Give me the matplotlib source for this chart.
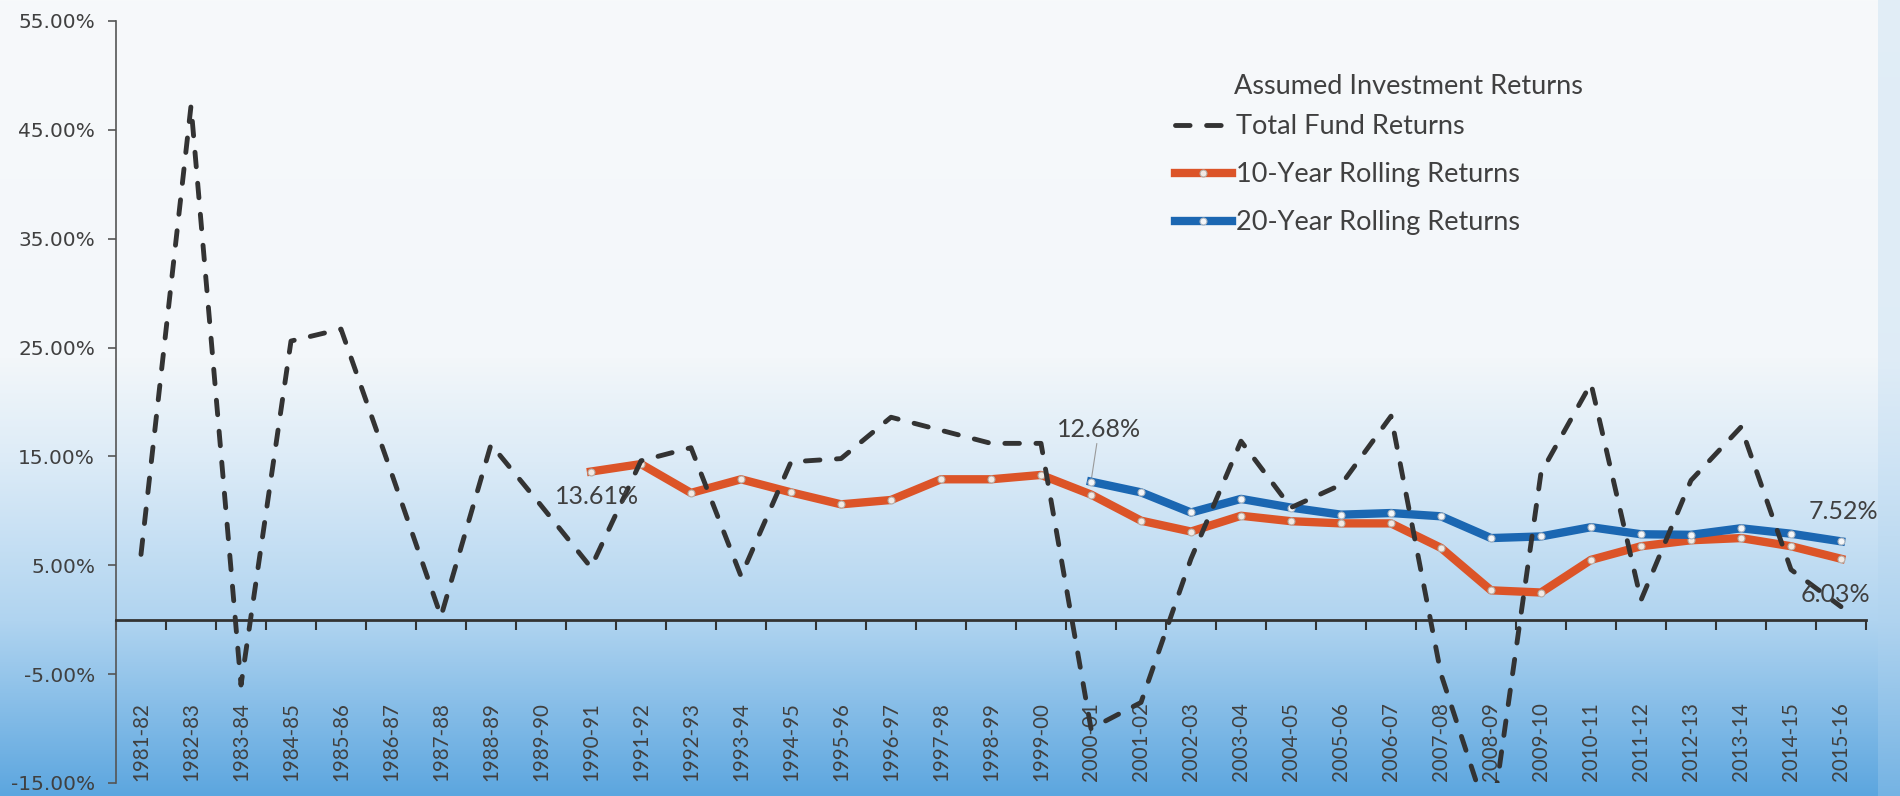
import numpy as np
import matplotlib
matplotlib.use('Agg')
import matplotlib.pyplot as plt

# ── data (percent) ──────────────────────────────────────────────────────────
years = ['1981-82', '1982-83', '1983-84', '1984-85', '1985-86', '1986-87',
         '1987-88', '1988-89', '1989-90', '1990-91', '1991-92', '1992-93',
         '1993-94', '1994-95', '1995-96', '1996-97', '1997-98', '1998-99',
         '1999-00', '2000-01', '2001-02', '2002-03', '2003-04', '2004-05',
         '2005-06', '2006-07', '2007-08', '2008-09', '2009-10', '2010-11',
         '2011-12', '2012-13', '2013-14', '2014-15', '2015-16']

total_fund = [6.0, 47.2, -6.0, 25.6, 26.7, 13.6, 0.3, 16.1, 10.5, 4.8,
              14.6, 15.8, 4.0, 14.5, 14.8, 18.6, 17.4, 16.2, 16.2, -10.0,
              -7.6, 5.6, 16.4, 10.3, 12.4, 18.7, -5.0, -19.0, 13.5, 21.7,
              1.8, 12.8, 17.7, 4.6, 1.2]

# 10-year rolling starts 1990-91, 20-year rolling starts 2000-01
rolling_10 = [13.61, 14.3, 11.65, 12.9, 11.7, 10.6, 11.0, 12.9, 12.9, 13.3,
              11.5, 9.1, 8.1, 9.55, 9.05, 8.85, 8.85, 6.6, 2.7, 2.5,
              5.5, 6.75, 7.3, 7.5, 6.75, 5.6]
rolling_20 = [12.68, 11.7, 9.85, 11.1, 10.3, 9.65, 9.8, 9.5, 7.5, 7.65,
              8.5, 7.85, 7.8, 8.4, 7.9, 7.2]
start_10 = years.index('1990-91')
start_20 = years.index('2000-01')

TEXT = '#404040'
plt.rcParams['font.family'] = ['Lato', 'DejaVu Sans']

W, H = 1900, 796
fig = plt.figure(figsize=(W / 100, H / 100), dpi=100)

# background: white at the top fading into blue at the bottom
bg = fig.add_axes([0, 0, 1, 1], zorder=-10)
stop_pos = [0.0, 0.45, 0.58, 0.78, 1.0]
stop_rgb = np.array([[247, 249, 250], [243, 247, 250], [220, 235, 247],
                     [176, 212, 240], [92, 166, 223]]) / 255
rows = np.linspace(0, 1, H)
grad = np.stack([np.interp(rows, stop_pos, stop_rgb[:, c]) for c in range(3)], axis=1)
img = np.repeat(grad[:, None, :], W, axis=1)
edge = np.array([175, 210, 238]) / 255
img[:, W - 22:, :] = img[:, W - 22:, :] * 0.7 + edge * 0.3
bg.imshow(img, aspect='auto', extent=[0, 1, 0, 1])
bg.axis('off')

ax = fig.add_axes([116 / W, 13 / H, 1750 / W, 762 / H])
ax.set_facecolor('none')
x = np.arange(len(years))

ln10, = ax.plot(x[start_10:], rolling_10, color='#dc5428', lw=6,
                marker='o', ms=5, mfc='#f1e9e4', mec='#b5aca4', mew=0.8,
                solid_joinstyle='round', zorder=3, label='10-Year Rolling Returns')
ln20, = ax.plot(x[start_20:], rolling_20, color='#1b67b2', lw=6,
                marker='o', ms=5, mfc='#f4f6f8', mec='#a9b4c0', mew=0.8,
                solid_joinstyle='round', zorder=4, label='20-Year Rolling Returns')
lnt, = ax.plot(x, total_fund, color='#333333', lw=3.5, ls=(0, (3.0, 3.4)),
               dash_capstyle='round', zorder=5, label='Total Fund Returns')

ax.set_xlim(-0.5, len(years) - 0.5)
ax.set_ylim(-15, 55)

# y axis
yt = np.arange(-15, 56, 10)
ax.set_yticks(yt, labels=[f'{v:.2f}%' for v in yt], fontfamily='DejaVu Sans')
ax.tick_params(axis='y', length=6, width=1.2, direction='out', colors='#555555',
               labelcolor=TEXT, labelsize=14.5, pad=9)

# x axis crosses at 0, labels sit at the bottom
ax.spines['bottom'].set_position(('data', 0))
ax.spines['bottom'].set_linewidth(2)
ax.spines['bottom'].set_color('#333333')
ax.spines['left'].set_linewidth(1.2)
ax.spines['left'].set_color('#555555')
ax.spines['top'].set_visible(False)
ax.spines['right'].set_visible(False)
ax.set_xticks(np.arange(-0.5, len(years), 1.0))
ax.tick_params(axis='x', length=7, width=1.5, direction='out', colors='#333333',
               labelbottom=False)
for i, yr in enumerate(years):
    ax.text(x[i], 0.003, yr, transform=ax.get_xaxis_transform(), rotation=90,
            ha='center', va='bottom', fontsize=14.8, color=TEXT)

# data labels
ax.text(9.13, 11.35, '13.61%', ha='center', va='center', fontsize=18, color=TEXT, zorder=6)
ax.annotate('12.68%', xy=(start_20, rolling_20[0]), xytext=(19.16, 17.5),
            ha='center', va='center', fontsize=18, color=TEXT,
            arrowprops=dict(arrowstyle='-', color='#9a9a9a', lw=0.8, shrinkA=0, shrinkB=3))
ax.text(34.04, 9.96, '7.52%', ha='center', va='center', fontsize=18, color=TEXT, zorder=6)
ax.text(33.88, 2.3, '6.03%', ha='center', va='center', fontsize=18, color=TEXT, zorder=6)

# legend
ax.legend(handles=[lnt, ln10, ln20], loc='upper left',
          bbox_to_anchor=(1175 / W, 1 - 114 / H), bbox_transform=fig.transFigure,
          frameon=False, fontsize=19.5, handlelength=2.1, handletextpad=0.15,
          labelspacing=0.85, borderpad=0, borderaxespad=0, labelcolor=TEXT)
fig.text(1234 / W, 1 - 86 / H, 'Assumed Investment Returns', fontsize=19.5,
         color=TEXT, ha='left', va='center')

fig.savefig('out.png', dpi=100)
